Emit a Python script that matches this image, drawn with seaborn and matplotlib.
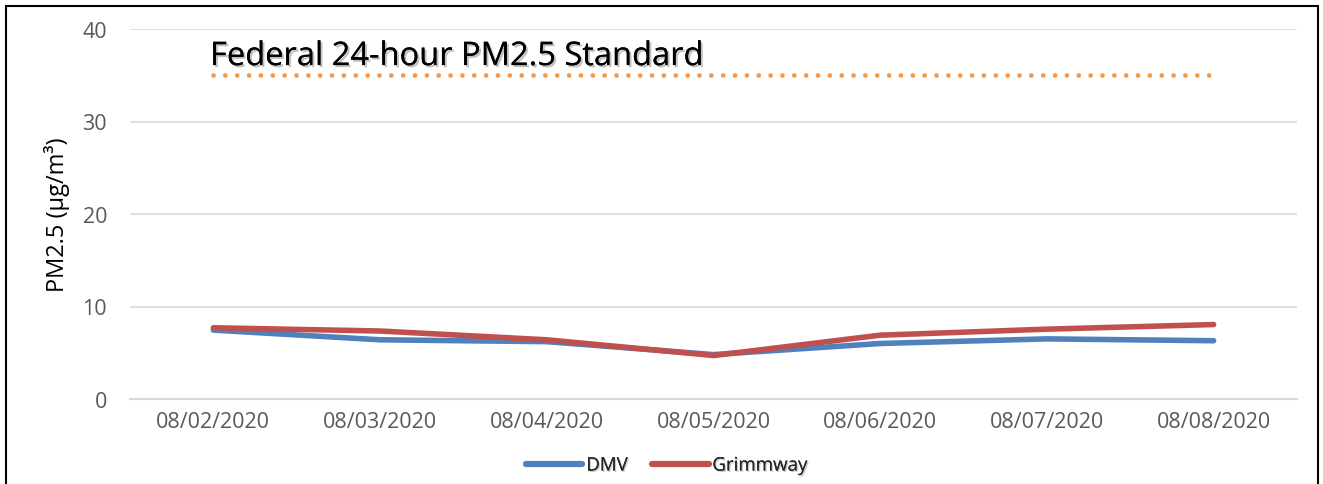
import matplotlib
matplotlib.use("Agg")
import matplotlib.pyplot as plt
import matplotlib.patheffects as pe
from matplotlib.patches import Rectangle
import seaborn as sns
import pandas as pd
import numpy as np

dates = ["08/02/2020", "08/03/2020", "08/04/2020", "08/05/2020",
         "08/06/2020", "08/07/2020", "08/08/2020"]
dmv = [7.45, 6.4, 6.2, 4.8, 6.0, 6.5, 6.3]
grimmway = [7.7, 7.35, 6.4, 4.7, 6.9, 7.55, 8.05]
standard = [35, 35, 35, 35, 35, 35, 35]
yticks = [0, 10, 20, 30, 40]

sns.set_theme(style="white")
plt.rcParams['font.family'] = ['Open Sans', 'DejaVu Sans']

df = pd.DataFrame({"date": dates * 2,
                   "value": dmv + grimmway,
                   "site": ["DMV"] * len(dates) + ["Grimmway"] * len(dates)})

fig = plt.figure(figsize=(13.23, 4.85), dpi=100)
ax = fig.add_axes([130/1323, 1-400/485, (1297-130)/1323, (400-30)/485])

sns.lineplot(data=df, x="date", y="value", hue="site",
             palette={"DMV": "#4F81BD", "Grimmway": "#C0504D"},
             linewidth=4, ax=ax, sort=False, legend=True,
             solid_capstyle="round")
sns.lineplot(x=dates, y=standard, ax=ax, color="#F79646",
             linewidth=3.4, linestyle=(0, (0.01, 2.5)), legend=False)
ax.lines[-1].set_dash_capstyle("round")

ax.set_xlim(-0.5, len(dates) - 0.5)
ax.set_ylim(0, 40)
ax.set_yticks(yticks)
ax.set_yticklabels([str(t) for t in yticks])
ax.set_xticks(range(len(dates)))
ax.set_xticklabels(dates)
ax.set_xticks(np.arange(-0.5, len(dates)), minor=True)
ax.tick_params(axis="x", which="major", length=0, pad=9,
               labelsize=15.5, labelcolor="#595959")
ax.tick_params(axis="x", which="minor", length=6, width=1.2, color="#D9D9D9",
               direction="out")
ax.tick_params(axis="y", length=0, pad=16.5, labelsize=15.5, labelcolor="#595959")
ax.yaxis.grid(True, color="#D9D9D9", linewidth=1.2)
ax.set_axisbelow(True)
for s in ["left", "right", "top"]:
    ax.spines[s].set_visible(False)
ax.spines["bottom"].set_color("#D9D9D9")
ax.spines["bottom"].set_linewidth(1.5)
ax.set_xlabel("")
ax.set_ylabel("PM2.5 (µg/m³)", fontsize=17, color="black", labelpad=9)

ax.text(-0.02, 36.1, "Federal 24-hour PM2.5 Standard", fontsize=23.5,
        color="black", ha="left", va="baseline",
        path_effects=[pe.withSimplePatchShadow(offset=(1.5, -1.5),
                                               shadow_rgbFace="#999999", alpha=0.6),
                      pe.Normal()])

handles, labels = ax.get_legend_handles_labels()
for h in handles:
    h.set_linewidth(4.5)
leg = ax.legend(handles[:2], labels[:2], loc="center",
                bbox_to_anchor=(0.46, -0.18), ncol=2, frameon=False,
                fontsize=13.5, handlelength=3.0, columnspacing=1.3,
                handletextpad=0.2)
for t in leg.get_texts():
    t.set_path_effects([pe.withSimplePatchShadow(offset=(1, -1),
                                                 shadow_rgbFace="#999999", alpha=0.5),
                        pe.Normal()])

fig.patches.append(Rectangle((6/1323, -0.1), (1318-6)/1323, 1.1 - 7/485,
                             transform=fig.transFigure, fill=False,
                             edgecolor="black", linewidth=1.5))

fig.savefig("out.png", dpi=100)
